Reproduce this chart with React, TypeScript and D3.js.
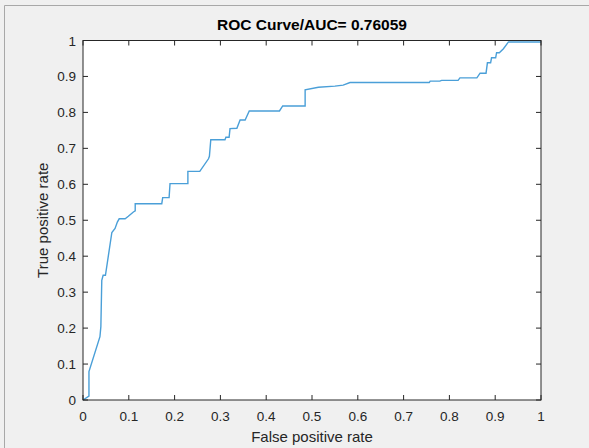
import React from "react";
import * as d3 from "d3";

const fpr = [0, 0.013, 0.013, 0.037, 0.039, 0.041, 0.044, 0.049, 0.063, 0.07, 0.075, 0.079, 0.092, 0.099, 0.11, 0.114, 0.114, 0.172, 0.174, 0.188, 0.19, 0.229, 0.229, 0.255, 0.274, 0.276, 0.279, 0.31, 0.312, 0.319, 0.321, 0.336, 0.343, 0.354, 0.363, 0.429, 0.436, 0.485, 0.485, 0.514, 0.55, 0.568, 0.583, 0.756, 0.758, 0.779, 0.783, 0.819, 0.823, 0.86, 0.867, 0.88, 0.883, 0.89, 0.892, 0.901, 0.903, 0.909, 0.918, 0.929, 1.0];
const tpr = [0, 0.011, 0.079, 0.176, 0.204, 0.333, 0.347, 0.347, 0.466, 0.477, 0.495, 0.504, 0.504, 0.511, 0.523, 0.526, 0.546, 0.546, 0.563, 0.563, 0.602, 0.602, 0.636, 0.636, 0.671, 0.678, 0.724, 0.724, 0.731, 0.731, 0.755, 0.756, 0.779, 0.779, 0.804, 0.804, 0.818, 0.818, 0.863, 0.87, 0.873, 0.876, 0.883, 0.883, 0.887, 0.887, 0.889, 0.889, 0.896, 0.896, 0.909, 0.909, 0.938, 0.938, 0.952, 0.952, 0.966, 0.966, 0.977, 0.996, 0.996];
const xTicks = [0, 0.1, 0.2, 0.3, 0.4, 0.5, 0.6, 0.7, 0.8, 0.9, 1];
const yTicks = [0, 0.1, 0.2, 0.3, 0.4, 0.5, 0.6, 0.7, 0.8, 0.9, 1];
const titleText = "ROC Curve/AUC= 0.76059";
const xLabel = "False positive rate";
const yLabel = "True positive rate";

export default function App() {
  const W = 589, H = 448;
  const left = 83, right = 541, top = 40.5, bottom = 400;
  const x = d3.scaleLinear().domain([0, 1]).range([left, right]);
  const y = d3.scaleLinear().domain([0, 1]).range([bottom, top]);
  const pts = fpr.map((f, i) => [f, tpr[i]] as [number, number]);
  const line = d3.line<[number, number]>().x(d => x(d[0])).y(d => y(d[1]));
  const axisColor = "#262626";
  const font = "'Liberation Sans', Arial, Helvetica, sans-serif";
  const tl = 5;
  return (
    <svg width={W} height={H} style={{ position: "absolute", left: 0, top: 0 }} fontFamily={font}>
      <rect x={0} y={0} width={W} height={H} fill="#f0f0f0" />
      <path d={`M4.5,${H} L4.5,5.5 L${W},5.5`} fill="none" stroke="#a8a8a8" strokeWidth={1} />
      <rect x={left} y={top} width={right - left} height={bottom - top} fill="#ffffff" />
      <path d={line(pts) || ""} fill="none" stroke="#4a9fd8" strokeWidth={1.4} />
      <rect x={left} y={top} width={right - left} height={bottom - top} fill="none" stroke={axisColor} strokeWidth={1} />
      {xTicks.map(t => (
        <g key={"x" + t}>
          <line x1={x(t)} x2={x(t)} y1={bottom} y2={bottom - tl} stroke={axisColor} />
          <line x1={x(t)} x2={x(t)} y1={top} y2={top + tl} stroke={axisColor} />
          <text x={x(t)} y={bottom + 21} textAnchor="middle" fontSize={13.5} fill={axisColor}>{String(t)}</text>
        </g>
      ))}
      {yTicks.map(t => (
        <g key={"y" + t}>
          <line x1={left} x2={left + tl} y1={y(t)} y2={y(t)} stroke={axisColor} />
          <line x1={right} x2={right - tl} y1={y(t)} y2={y(t)} stroke={axisColor} />
          <text x={left - 7} y={y(t) + 5} textAnchor="end" fontSize={13.5} fill={axisColor}>{String(t)}</text>
        </g>
      ))}
      <text x={(left + right) / 2} y={30} textAnchor="middle" fontSize={15.5} fontWeight="bold" fill="#000">{titleText}</text>
      <text x={(left + right) / 2} y={442} textAnchor="middle" fontSize={15} fill={axisColor}>{xLabel}</text>
      <text transform={`translate(48,${(top + bottom) / 2}) rotate(-90)`} textAnchor="middle" fontSize={15} fill={axisColor}>{yLabel}</text>
    </svg>
  );
}
